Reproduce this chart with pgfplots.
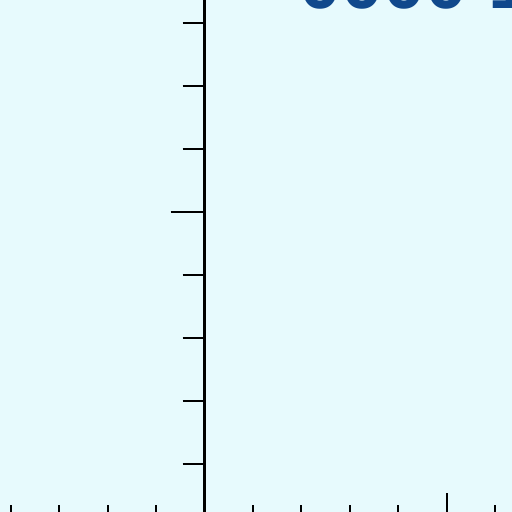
\documentclass[border=0pt]{standalone}
\usepackage{pgfplots}
\pgfplotsset{compat=1.18}
\usepackage{fontspec}
\newfontfamily\titlefont{Liberation Sans}
\definecolor{bgcyan}{RGB}{231,250,253}
\definecolor{titleblue}{RGB}{16,72,140}

\begin{document}
\begin{tikzpicture}
% x axis, with the background
\begin{axis}[
    anchor=origin, at={(0pt,0pt)},
    x=24.2pt, y=31.5pt,
    xmin=-4.5, xmax=6.6,
    ymin=0, ymax=8.6,
    axis x line=bottom, axis y line=none,
    axis line style={-, line width=1.3pt},
    axis background/.style={fill=bgcyan},
    xtick={0,5}, minor xtick={-4,-3,-2,-1,1,2,3,4,6},
    xticklabels={},
    tick align=inside,
    major tick length=17pt, minor tick length=11pt,
    tick style={black, line width=1pt},
    minor tick style={black, line width=1pt},
]
\addplot[draw=none] coordinates {(0,1)};
\end{axis}
% y axis at x = 0
\begin{axis}[
    anchor=origin, at={(0pt,0pt)},
    x=24.2pt, y=31.5pt,
    xmin=0, xmax=6.6,
    ymin=0, ymax=8.6,
    axis x line=none, axis y line=left,
    axis line style={-, line width=1.3pt},
    ytick={5}, minor ytick={1,2,3,4,6,7,8},
    yticklabels={},
    tick align=outside,
    major tick length=17pt, minor tick length=11pt,
    tick style={black, line width=1pt},
    minor tick style={black, line width=1pt},
]
\addplot[draw=none] coordinates {(1,1)};
\end{axis}
\node[anchor=base west, inner sep=0pt, text=titleblue, font=\titlefont\bfseries\fontsize{37.8}{40}\selectfont]
    at (47pt,259pt) {0000 10};
\pgfresetboundingbox
\useasboundingbox (-102.3pt,7.5pt) rectangle (153.7pt,263.5pt);
\end{tikzpicture}
\end{document}
